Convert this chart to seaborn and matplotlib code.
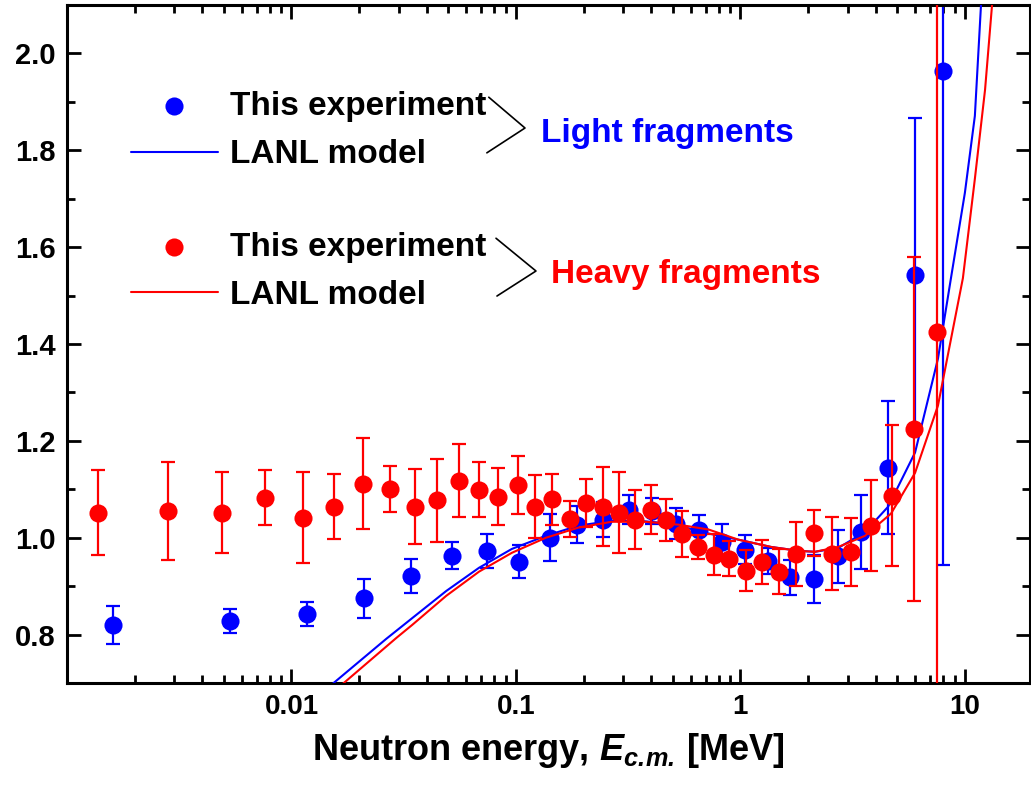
import numpy as np
import pandas as pd
import matplotlib
matplotlib.use("Agg")
import matplotlib.pyplot as plt
import seaborn as sns
from matplotlib.ticker import FixedLocator, LogLocator, MultipleLocator, FormatStrFormatter, NullFormatter

# ---------------- data ----------------
blue_E = [0.0016, 0.0053, 0.0117, 0.0211, 0.034, 0.052, 0.074, 0.103, 0.142, 0.187,
          0.244, 0.318, 0.402, 0.514, 0.657, 0.824, 1.05, 1.33, 1.67, 2.13,
          2.73, 3.45, 4.55, 6.0, 7.98]
blue_R = [0.820, 0.828, 0.843, 0.875, 0.921, 0.963, 0.973, 0.950, 1.000, 1.027,
          1.037, 1.058, 1.056, 1.029, 1.017, 0.992, 0.975, 0.952, 0.918, 0.915,
          0.962, 1.012, 1.145, 1.542, 1.963]
blue_err = [0.040, 0.025, 0.025, 0.040, 0.035, 0.028, 0.035, 0.034, 0.048, 0.038,
            0.036, 0.030, 0.027, 0.032, 0.030, 0.037, 0.030, 0.027, 0.036, 0.050,
            0.055, 0.077, 0.138, 0.325, 1.020]

red_E = [0.00137, 0.00281, 0.00489, 0.00766, 0.0112, 0.0155, 0.0209, 0.0275, 0.0356, 0.0446,
         0.0558, 0.0685, 0.0832, 0.102, 0.121, 0.1445, 0.174, 0.205, 0.244, 0.287,
         0.338, 0.398, 0.464, 0.547, 0.644, 0.759, 0.894, 1.06, 1.25, 1.49,
         1.76, 2.13, 2.56, 3.11, 3.82, 4.74, 5.93, 7.51]
red_R = [1.052, 1.056, 1.052, 1.083, 1.041, 1.064, 1.112, 1.101, 1.064, 1.077,
         1.118, 1.099, 1.085, 1.108, 1.064, 1.079, 1.039, 1.072, 1.064, 1.052,
         1.037, 1.058, 1.037, 1.008, 0.981, 0.965, 0.957, 0.932, 0.950, 0.930,
         0.967, 1.010, 0.967, 0.970, 1.025, 1.087, 1.224, 1.424]
red_err = [0.087, 0.101, 0.084, 0.057, 0.094, 0.067, 0.094, 0.047, 0.077, 0.085,
           0.076, 0.057, 0.059, 0.060, 0.065, 0.052, 0.037, 0.050, 0.082, 0.084,
           0.061, 0.050, 0.044, 0.047, 0.025, 0.042, 0.036, 0.042, 0.046, 0.046,
           0.066, 0.047, 0.075, 0.070, 0.094, 0.145, 0.355, 1.200]

model_E_light = [0.01, 0.0154, 0.0264, 0.0345, 0.0489, 0.0685, 0.096, 0.136, 0.19, 0.267,
                 0.352, 0.494, 0.699, 0.98, 1.37, 1.81, 2.15, 2.73, 3.59, 4.55,
                 6.0, 7.59, 8.67, 10.0, 11.08, 12.5]
model_R_light = [0.62, 0.70, 0.791, 0.834, 0.89, 0.938, 0.977, 1.004, 1.025, 1.035,
                 1.035, 1.029, 1.010, 0.996, 0.981, 0.973, 0.971, 0.979, 1.012, 1.064,
                 1.176, 1.370, 1.536, 1.712, 1.871, 2.31]
model_E_heavy = [0.01, 0.0169, 0.0293, 0.0345, 0.0489, 0.0685, 0.096, 0.136, 0.19, 0.267,
                 0.378, 0.53, 0.721, 0.98, 1.37, 1.81, 2.15, 2.73, 3.59, 4.69,
                 6.0, 7.59, 9.8, 11.08, 12.3, 13.6]
model_R_heavy = [0.61, 0.698, 0.793, 0.820, 0.88, 0.93, 0.969, 1.000, 1.021, 1.033,
                 1.033, 1.027, 1.017, 0.996, 0.981, 0.973, 0.971, 0.981, 1.004, 1.050,
                 1.134, 1.273, 1.536, 1.741, 1.925, 2.17]

x_ticks = [0.01, 0.1, 1, 10]
x_ticklabels = ["0.01", "0.1", "1", "10"]

# ---------------- style ----------------
sns.set_theme(style="ticks")
plt.rcParams['font.family'] = ['Liberation Sans', 'DejaVu Sans']
plt.rcParams['font.weight'] = 'bold'
plt.rcParams['text.color'] = 'black'
plt.rcParams['axes.labelcolor'] = 'black'
plt.rcParams['xtick.color'] = 'black'
plt.rcParams['ytick.color'] = 'black'
plt.rcParams['axes.edgecolor'] = 'black'
plt.rcParams['mathtext.fontset'] = 'custom'
plt.rcParams['mathtext.rm'] = 'Liberation Sans:bold'
plt.rcParams['mathtext.bf'] = 'Liberation Sans:bold'
plt.rcParams['mathtext.it'] = 'Liberation Sans:italic:bold'
plt.rcParams['mathtext.bfit'] = 'Liberation Sans:italic:bold'

BLUE = '#0000ff'
RED = '#ff0000'

fig = plt.figure(figsize=(10.31, 7.85), dpi=100)
ax = fig.add_axes([0.065, 0.1299, 0.934, 0.8637])

# light fragments (blue)
ax.errorbar(blue_E, blue_R, yerr=blue_err, fmt='none', ecolor=BLUE,
            elinewidth=1.6, capsize=5, capthick=1.6, zorder=2)
sns.scatterplot(x=blue_E, y=blue_R, color=BLUE, s=170, linewidth=0, ax=ax, zorder=3)
blue_pts = ax.collections[-1]

# models
sns.lineplot(x=model_E_light, y=model_R_light, color=BLUE, linewidth=1.5,
             sort=False, estimator=None, ax=ax, zorder=4)
blue_line = ax.lines[-1]
sns.lineplot(x=model_E_heavy, y=model_R_heavy, color=RED, linewidth=1.5,
             sort=False, estimator=None, ax=ax, zorder=4)
red_line = ax.lines[-1]

# heavy fragments (red)
ax.errorbar(red_E, red_R, yerr=red_err, fmt='none', ecolor=RED,
            elinewidth=1.6, capsize=5, capthick=1.6, zorder=5)
sns.scatterplot(x=red_E, y=red_R, color=RED, s=170, linewidth=0, ax=ax, zorder=6)
red_pts = ax.collections[-1]

# axes
ax.set_xscale('log')
ax.set_xlim(0.001, 19.5)
ax.set_ylim(0.7, 2.1)
ax.xaxis.set_major_locator(FixedLocator(x_ticks))
ax.set_xticklabels(x_ticklabels)
ax.xaxis.set_minor_locator(LogLocator(base=10, subs=np.arange(2, 10)))
ax.xaxis.set_minor_formatter(NullFormatter())
ax.yaxis.set_major_locator(MultipleLocator(0.2))
ax.yaxis.set_minor_locator(MultipleLocator(0.1))
ax.yaxis.set_major_formatter(FormatStrFormatter('%.1f'))

for s in ax.spines.values():
    s.set_linewidth(2.2)
    s.set_color('black')
ax.tick_params(which='both', direction='in', top=True, right=True,
               width=2.0, color='black', labelcolor='black')
ax.tick_params(which='major', length=10, pad=8)
ax.tick_params(axis='x', which='major', labelsize=20)
ax.tick_params(axis='y', which='major', labelsize=21)
ax.tick_params(which='minor', length=6)
for lab in ax.get_xticklabels() + ax.get_yticklabels():
    lab.set_fontweight('bold')

ax.set_xlabel(r"Neutron energy, $\mathbfit{E}_{\mathbfit{c.\!m.\!}}$ [MeV]",
              fontsize=26, fontweight='bold', labelpad=8, color='black')
ax.set_ylabel('')

# legends
leg_kw = dict(loc='upper left', frameon=False, prop={'size': 24, 'weight': 'bold'},
              handlelength=2.6, handletextpad=0.36, labelspacing=0.52,
              borderpad=0, borderaxespad=0, scatterpoints=1)
leg1 = ax.legend(handles=[blue_pts, blue_line], labels=['This experiment', 'LANL model'],
                 bbox_to_anchor=(0.0665, 0.873), **leg_kw)
ax.add_artist(leg1)
leg2 = ax.legend(handles=[red_pts, red_line], labels=['This experiment', 'LANL model'],
                 bbox_to_anchor=(0.0665, 0.6655), **leg_kw)
for lg in (leg1, leg2):
    for t in lg.get_texts():
        t.set_color('black')

# brackets and group labels
ax.plot([0.438, 0.4756, 0.436], [0.864, 0.8186, 0.782], color='black', lw=1.2,
        transform=ax.transAxes, clip_on=False)
ax.plot([0.4455, 0.487, 0.4465], [0.656, 0.6077, 0.5708], color='black', lw=1.2,
        transform=ax.transAxes, clip_on=False)
ax.text(0.492, 0.811, 'Light fragments', color=BLUE, fontsize=24, fontweight='bold',
        va='center', ha='left', transform=ax.transAxes)
ax.text(0.5026, 0.603, 'Heavy fragments', color=RED, fontsize=24, fontweight='bold',
        va='center', ha='left', transform=ax.transAxes)

fig.savefig('out.png', dpi=100)
